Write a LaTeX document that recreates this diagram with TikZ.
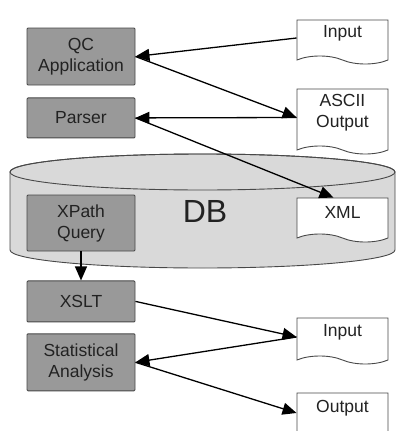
\documentclass[tikz,border=0pt]{standalone}
\usepackage{fontspec}
\setmainfont{Liberation Sans}
\usetikzlibrary{positioning,shapes.symbols,arrows.meta}

\definecolor{boxgray}{HTML}{999999}
\definecolor{dbgray}{HTML}{D9D9D9}
\definecolor{edgegray}{HTML}{484848}
\definecolor{textgray}{HTML}{222222}

\begin{document}
\begin{tikzpicture}[x=1pt, y=-1pt, font=\fontsize{17.5}{21}\selectfont,
  task/.style={draw=edgegray, line width=0.9pt, fill=boxgray, text=textgray,
    rounded corners=1pt, minimum width=108pt, align=center, inner sep=2pt},
  doc/.style={tape, tape bend top=none, tape bend bottom=out and in,
    tape bend height=8pt, draw=edgegray, line width=0.9pt, fill=white, text=textgray,
    minimum width=91pt, align=center, inner sep=2pt},
  link/.style={line width=1.3pt, -{Triangle[length=14pt,width=12pt]}}]
        \useasboundingbox (0,0) rectangle (396,431);

        % database
        \filldraw[draw=edgegray, fill=dbgray, line width=0.9pt]
          (10,172) -- (10,250) arc[start angle=180, end angle=360, x radius=192.5pt, y radius=18pt]
          -- (395,172) arc[start angle=0, end angle=180, x radius=192.5pt, y radius=18pt] -- cycle;
        \draw[edgegray, line width=0.9pt] (202.5,172) ellipse[x radius=192.5pt, y radius=18pt];
        \node[text=textgray, font=\fontsize{32}{34}\selectfont] (DB) at (205,211) {DB};

        % processing steps
        \node[task, minimum height=57pt] (QC) at (81,56.5) {QC\\Application};
        \node[task, minimum height=40pt] (P) [below=12pt of QC] {Parser};
        \node[task, minimum height=56pt] (XQ) at (81,223) {XPath\\Query};
        \node[task, minimum height=41pt] (XS) [below=29pt of XQ] {XSLT};
        \node[task, minimum height=57pt] (SA) [below=11pt of XS] {Statistical\\Analysis};

        % documents
        \node[doc, minimum height=44pt, text depth=14pt] (I1) at (342.5,38) {Input};
        \node[doc, minimum height=65pt, text depth=14pt] (AO) at (342.5,117.5) {ASCII\\Output};
        \node[doc, minimum height=44pt, text depth=8pt] (XML) at (342.5,216) {XML};
        \node[doc, minimum height=46pt, text depth=14pt] (I2) at (342.5,337) {Input};
        \node[doc, minimum height=48pt, text depth=14pt] (O) at (342.5,413) {Output};

        \path[link]
          (I1.west) edge (QC.east)
          (QC.east) edge (AO.west)
          (AO.west) edge (P.east)
          (P.east) edge ([xshift=-9pt]XML.north)
          (XQ.south) edge (XS.north)
          (XS.east) edge (I2.west)
          (I2.west) edge (SA.east)
          (SA.east) edge (O.west);
\end{tikzpicture}
\end{document}
